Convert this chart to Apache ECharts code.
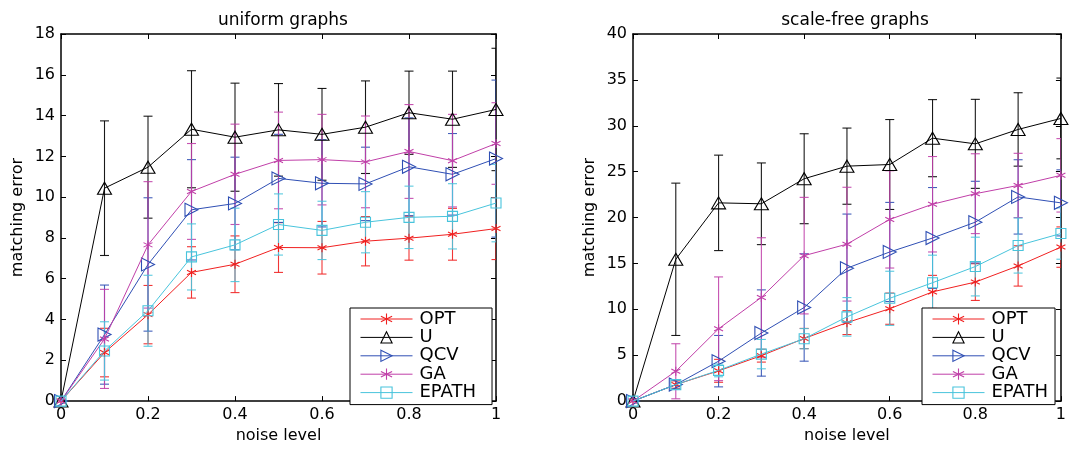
<!DOCTYPE html>
<html>
<head>
<meta charset="utf-8">
<script src="https://cdn.jsdelivr.net/npm/echarts@6/dist/echarts.min.js"></script>
<style>
html,body{margin:0;padding:0;background:#fff;}
#chart{width:1069px;height:449px;}
</style>
</head>
<body>
<div id="chart"></div>
<script>
// ---------- data ----------
const noise = [0, 0.1, 0.2, 0.3, 0.4, 0.5, 0.6, 0.7, 0.8, 0.9, 1];
const seriesNames = ['OPT', 'U', 'QCV', 'GA', 'EPATH'];
const titles = ['uniform graphs', 'scale-free graphs'];
const xTicks = [0, 0.2, 0.4, 0.6, 0.8, 1];
const yMaxUniform = 18, yStepUniform = 2;
const yMaxScaleFree = 40, yStepScaleFree = 5;

// uniform graphs: means
const uniOPT   = [0, 2.38, 4.24, 6.31, 6.71, 7.53, 7.52, 7.84, 7.99, 8.18, 8.46];
const uniU     = [0, 10.44, 11.47, 13.33, 12.94, 13.30, 13.08, 13.43, 14.14, 13.82, 14.30];
const uniQCV   = [0, 3.26, 6.70, 9.38, 9.69, 10.92, 10.68, 10.65, 11.49, 11.12, 11.89];
const uniGA    = [0, 3.05, 7.66, 10.28, 11.12, 11.80, 11.84, 11.73, 12.24, 11.79, 12.63];
const uniEPATH = [0, 2.46, 4.43, 7.07, 7.66, 8.66, 8.37, 8.77, 9.01, 9.06, 9.71];
// uniform graphs: error bar half-lengths
const uniOPTsd   = [0, 1.19, 1.43, 1.26, 1.39, 1.22, 1.29, 1.21, 1.08, 1.27, 1.52];
const uniUsd     = [0, 3.30, 2.50, 2.87, 2.65, 2.27, 2.25, 2.27, 2.04, 2.36, 3.00];
const uniQCVsd   = [0, 2.43, 3.27, 2.46, 2.27, 2.16, 2.14, 1.80, 2.40, 2.00, 3.85];
const uniGAsd    = [0, 2.43, 3.10, 2.35, 2.46, 2.37, 2.22, 2.25, 2.30, 2.27, 2.00];
const uniEPATHsd = [0, 1.43, 1.74, 1.62, 1.80, 1.50, 1.43, 1.50, 1.53, 1.60, 1.90];

// scale-free graphs: means
const sfOPT   = [0, 1.80, 3.30, 4.95, 6.82, 8.55, 10.07, 11.90, 12.97, 14.73, 16.78];
const sfU     = [0, 15.45, 21.60, 21.50, 24.23, 25.60, 25.78, 28.65, 28.03, 29.60, 30.80];
const sfQCV   = [0, 1.80, 4.35, 7.42, 10.20, 14.48, 16.25, 17.77, 19.50, 22.25, 21.60];
const sfGA    = [0, 3.25, 7.88, 11.30, 15.85, 17.10, 19.80, 21.45, 22.60, 23.50, 24.60];
const sfEPATH = [0, 1.80, 3.35, 5.12, 6.80, 9.18, 11.20, 12.90, 14.66, 16.95, 18.26];
// scale-free graphs: error bar half-lengths
const sfOPTsd   = [0, 0.40, 1.25, 0.70, 1.10, 1.30, 1.70, 1.80, 2.00, 2.20, 2.20];
const sfUsd     = [0, 8.30, 5.20, 4.45, 4.90, 4.15, 4.90, 4.20, 4.85, 4.00, 4.40];
const sfQCVsd   = [0, 0.50, 2.80, 4.70, 5.85, 5.90, 5.40, 5.50, 4.45, 4.05, 3.60];
const sfGAsd    = [0, 3.00, 5.65, 6.50, 6.35, 6.20, 5.30, 5.20, 4.35, 3.50, 4.00];
const sfEPATHsd = [0, 0.50, 0.70, 1.60, 1.10, 2.10, 2.95, 3.00, 3.20, 3.00, 2.80];

// ---------- styles ----------
const FONT = 'DejaVu Sans';
const colors = {OPT: '#f02020', U: '#000000', QCV: '#2f4fb4', GA: '#c03fa8', EPATH: '#48c4dc'};
const ASTER = 'path://M5,0 L5,10 M0.67,2.5 L9.33,7.5 M0.67,7.5 L9.33,2.5';
const symbols = {
  OPT:   {symbol: ASTER, size: 9},
  U:     {symbol: 'path://M5,0 L10,9 L0,9 Z', size: [14, 12]},
  QCV:   {symbol: 'path://M0,0 L10,5 L0,10 Z', size: [13, 13]},
  GA:    {symbol: ASTER, size: 9},
  EPATH: {symbol: 'path://M0,0 L10,0 L10,10 L0,10 Z', size: 10}
};

const panels = [
  {means: [uniOPT, uniU, uniQCV, uniGA, uniEPATH], sds: [uniOPTsd, uniUsd, uniQCVsd, uniGAsd, uniEPATHsd], ymax: yMaxUniform, ystep: yStepUniform},
  {means: [sfOPT, sfU, sfQCV, sfGA, sfEPATH], sds: [sfOPTsd, sfUsd, sfQCVsd, sfGAsd, sfEPATHsd], ymax: yMaxScaleFree, ystep: yStepScaleFree}
];

const gridLefts = [61, 633];
const grids = gridLefts.map(l => ({left: l, top: 34, width: 435, height: 378, containLabel: false}));

const txt = {color: '#000', fontFamily: FONT, fontSize: 16};
const xAxes = [], yAxes = [];
panels.forEach((p, gi) => {
  xAxes.push({
    gridIndex: gi, type: 'value', min: xTicks[0], max: xTicks[xTicks.length - 1], interval: 0.2,
    axisLine: {onZero: false, lineStyle: {color: '#000', width: 1.5}},
    axisTick: {inside: true, length: 5, lineStyle: {color: '#000', width: 1}},
    axisLabel: Object.assign({margin: 6}, txt),
    splitLine: {show: false},
    name: 'noise level', nameLocation: 'middle', nameGap: 21, nameTextStyle: txt
  });
  xAxes.push({
    gridIndex: gi, type: 'value', position: 'top', min: xTicks[0], max: xTicks[xTicks.length - 1], interval: 0.2,
    axisLine: {onZero: false, lineStyle: {color: '#000', width: 1.5}},
    axisTick: {inside: true, length: 5, lineStyle: {color: '#000', width: 1}},
    axisLabel: {show: false}, splitLine: {show: false}
  });
  yAxes.push({
    gridIndex: gi, type: 'value', min: 0, max: p.ymax, interval: p.ystep,
    axisLine: {onZero: false, lineStyle: {color: '#000', width: 1.5}},
    axisTick: {inside: true, length: 5, lineStyle: {color: '#000', width: 1}},
    axisLabel: Object.assign({margin: 6}, txt),
    splitLine: {show: false},
    name: 'matching error', nameLocation: 'middle', nameGap: 35, nameTextStyle: txt
  });
  yAxes.push({
    gridIndex: gi, type: 'value', position: 'right', min: 0, max: p.ymax, interval: p.ystep,
    axisLine: {onZero: false, lineStyle: {color: '#000', width: 1.5}},
    axisTick: {inside: true, length: 5, lineStyle: {color: '#000', width: 1}},
    axisLabel: {show: false}, splitLine: {show: false}
  });
});

const series = [];
panels.forEach((p, gi) => {
  seriesNames.forEach((name, si) => {
    const c = colors[name];
    const m = p.means[si], sd = p.sds[si];
    const errData = [];
    noise.forEach((x, i) => { if (sd[i] > 0) errData.push([x, m[i] - sd[i], m[i] + sd[i]]); });
    series.push({
      type: 'custom', name: name + ' error', xAxisIndex: gi * 2, yAxisIndex: gi * 2,
      data: errData, encode: {x: 0, y: [1, 2]}, clip: true, silent: true, z: 2 + si * 0.1,
      renderItem: function (params, api) {
        const x = api.value(0);
        const lo = api.coord([x, api.value(1)]);
        const hi = api.coord([x, api.value(2)]);
        const w = 4.5;
        const st = {stroke: c, lineWidth: 1.1, opacity: 0.9};
        return {type: 'group', children: [
          {type: 'line', shape: {x1: lo[0], y1: lo[1], x2: hi[0], y2: hi[1]}, style: st},
          {type: 'line', shape: {x1: lo[0] - w, y1: lo[1], x2: lo[0] + w, y2: lo[1]}, style: st},
          {type: 'line', shape: {x1: hi[0] - w, y1: hi[1], x2: hi[0] + w, y2: hi[1]}, style: st}
        ]};
      }
    });
    series.push({
      type: 'line', name: name, xAxisIndex: gi * 2, yAxisIndex: gi * 2,
      data: noise.map((x, i) => [x, m[i]]),
      symbol: symbols[name].symbol, symbolSize: symbols[name].size, showAllSymbol: true,
      lineStyle: {color: c, width: 1},
      itemStyle: {color: 'rgba(255,255,255,0)', borderColor: c, borderWidth: 1.1},
      emphasis: {disabled: true}, animation: false, z: 3 + si * 0.1
    });
  });
});

const legendCommon = {
  orient: 'vertical', data: seriesNames, itemWidth: 52, itemHeight: 14, itemGap: 0.4,
  backgroundColor: '#fff', borderColor: '#000', borderWidth: 1, borderRadius: 0,
  selectedMode: false,
  lineStyle: {width: 1},
  itemStyle: {borderWidth: 1.1},
  textStyle: {color: '#000', fontFamily: FONT, fontSize: 18, lineHeight: 14, padding: [0, 0, 0, 2]}
};

const option = {
  backgroundColor: '#fff',
  animation: false,
  title: [
    {text: titles[0], left: 278, top: 7, textAlign: 'center', textStyle: {color: '#000', fontFamily: FONT, fontSize: 17, fontWeight: 'normal'}},
    {text: titles[1], left: 850, top: 7, textAlign: 'center', textStyle: {color: '#000', fontFamily: FONT, fontSize: 17, fontWeight: 'normal'}}
  ],
  grid: grids,
  xAxis: xAxes,
  yAxis: yAxes,
  legend: [
    Object.assign({left: 350, top: 308, padding: [2, 16, 3, 10]}, legendCommon),
    Object.assign({left: 922, top: 308, padding: [2, 7, 3, 10]}, legendCommon)
  ],
  series: series
};

const chart = echarts.init(document.getElementById('chart'), null, {renderer: 'canvas'});
chart.setOption(option);
</script>
</body>
</html>
